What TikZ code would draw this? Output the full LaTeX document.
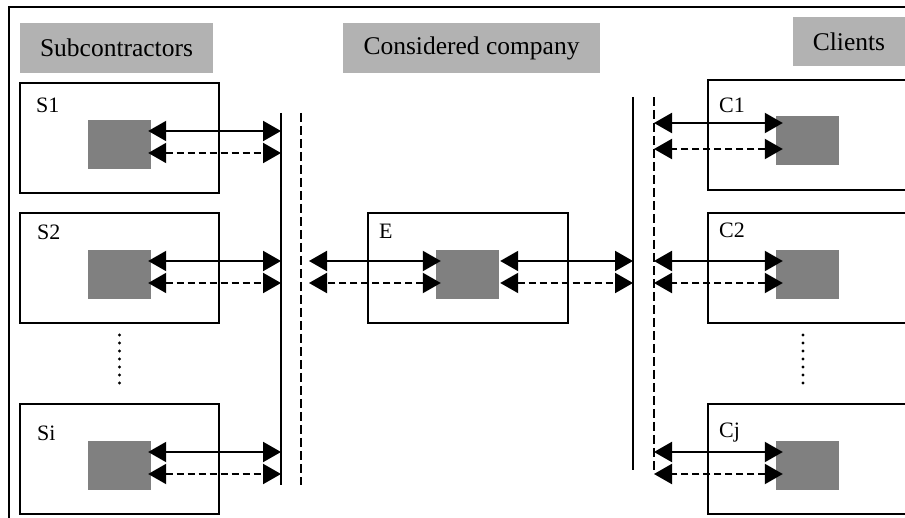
\documentclass[tikz,border=0pt]{standalone}
\usepackage{fontspec}
\setmainfont{Liberation Serif}
\usetikzlibrary{arrows.meta}

\tikzset{
  header/.style={fill=black!30, inner sep=0pt, font=\fontsize{25.5}{30}\selectfont},
  unit/.style={draw, line width=2pt, inner sep=0pt, minimum width=199pt, minimum height=110pt},
  core/.style={fill=black!50, inner sep=0pt, minimum width=63pt, minimum height=49pt},
  tag/.style={anchor=base west, inner sep=0pt, font=\fontsize{22}{26}\selectfont},
  bus/.style={line width=2pt},
  twoway/.style={{Triangle[length=18pt,width=20pt]}-{Triangle[length=18pt,width=20pt]}, line width=2pt},
  dashlink/.style={twoway, dash pattern=on 7pt off 4pt},
  dots/.style={line width=3.2pt, line cap=round, dash pattern=on 0pt off 8pt}
}

\begin{document}
\begin{tikzpicture}[x=1pt,y=-1pt]
      \clip (0,0) rectangle (905,518);
      \draw[line width=1.8pt] (9,520) -- (9,7) -- (910,7);

      % headers
      \node[header, minimum width=193pt, minimum height=50pt] (hsub) at (116.5,48) {Subcontractors};
      \node[header, minimum width=257pt, minimum height=50pt] (hcomp) at (471.5,48) {Considered company};
      \node[header, minimum width=112pt, minimum height=49pt] (hcli) at (849,41.5) {Clients};

      % subcontractors
      \node[unit] (s1) at (119.5,138) {};
      \node[unit] (s2) at (119.5,268) {};
      \node[unit] (si) at (119.5,459) {};
      \node[core] (sq-s1) at (119.5,144.5) {};
      \node[core] (sq-s2) at (119.5,274.5) {};
      \node[core] (sq-si) at (119.5,465.5) {};
      \node[tag] at (36,113) {S1};
      \node[tag] at (37,240) {S2};
      \node[tag] at (37,440) {Si};

      % considered company
      \node[unit, minimum width=200pt] (e) at (468,268) {};
      \node[core] (sq-e) at (467.5,274.5) {};
      \node[tag] at (379,239) {E};

      % clients
      \node[unit] (c1) at (807.5,135) {};
      \node[unit] (c2) at (807.5,268) {};
      \node[unit] (cj) at (807.5,459) {};
      \node[core] (sq-c1) at (807.5,140.5) {};
      \node[core] (sq-c2) at (807.5,274.5) {};
      \node[core] (sq-cj) at (807.5,465.5) {};
      \node[tag] at (719,113) {C1};
      \node[tag] at (719,238) {C2};
      \node[tag] at (719,437) {Cj};

      % buses
      \coordinate (busS) at (281,113);
      \coordinate (busSd) at (301,113);
      \coordinate (busC) at (633,97);
      \coordinate (busCd) at (654,97);
      \draw[bus] (busS) -- (281,485);
      \draw[bus, dash pattern=on 9pt off 4pt] (busSd) -- (301,485);
      \draw[bus] (busC) -- (633,470);
      \draw[bus, dash pattern=on 9pt off 4pt] (busCd) -- (654,472);

      % links
      \foreach \n in {s1,s2,si}{
        \draw[twoway] ([xshift=-3pt,yshift=13.5pt]sq-\n.east) coordinate (p) -- (p -| busS);
        \draw[dashlink] ([xshift=-3pt,yshift=-8.5pt]sq-\n.east) coordinate (p) -- (p -| busS);
      }
      \draw[twoway] ([xshift=5pt,yshift=13.5pt]sq-e.west) coordinate (p) -- ([xshift=8pt]p -| busSd);
      \draw[dashlink] ([xshift=5pt,yshift=-8.5pt]sq-e.west) coordinate (p) -- ([xshift=8pt]p -| busSd);
      \draw[twoway] ([xshift=1pt,yshift=13.5pt]sq-e.east) coordinate (p) -- (p -| busC);
      \draw[dashlink] ([xshift=1pt,yshift=-8.5pt]sq-e.east) coordinate (p) -- (p -| busC);
      \draw[twoway] ([xshift=7pt,yshift=17.5pt]sq-c1.west) coordinate (p) -- (p -| busCd);
      \draw[dashlink] ([xshift=7pt,yshift=-8.5pt]sq-c1.west) coordinate (p) -- (p -| busCd);
      \foreach \n in {c2,cj}{
        \draw[twoway] ([xshift=7pt,yshift=13.5pt]sq-\n.west) coordinate (p) -- (p -| busCd);
        \draw[dashlink] ([xshift=7pt,yshift=-8.5pt]sq-\n.west) coordinate (p) -- (p -| busCd);
      }

      % more units
      \draw[dots] ([yshift=-11pt]s2.south) -- ([yshift=14pt]si.north);
      \draw[dots] ([xshift=-4.5pt,yshift=-11pt]c2.south) -- ([xshift=-4.5pt,yshift=14pt]cj.north);
\end{tikzpicture}
\end{document}
